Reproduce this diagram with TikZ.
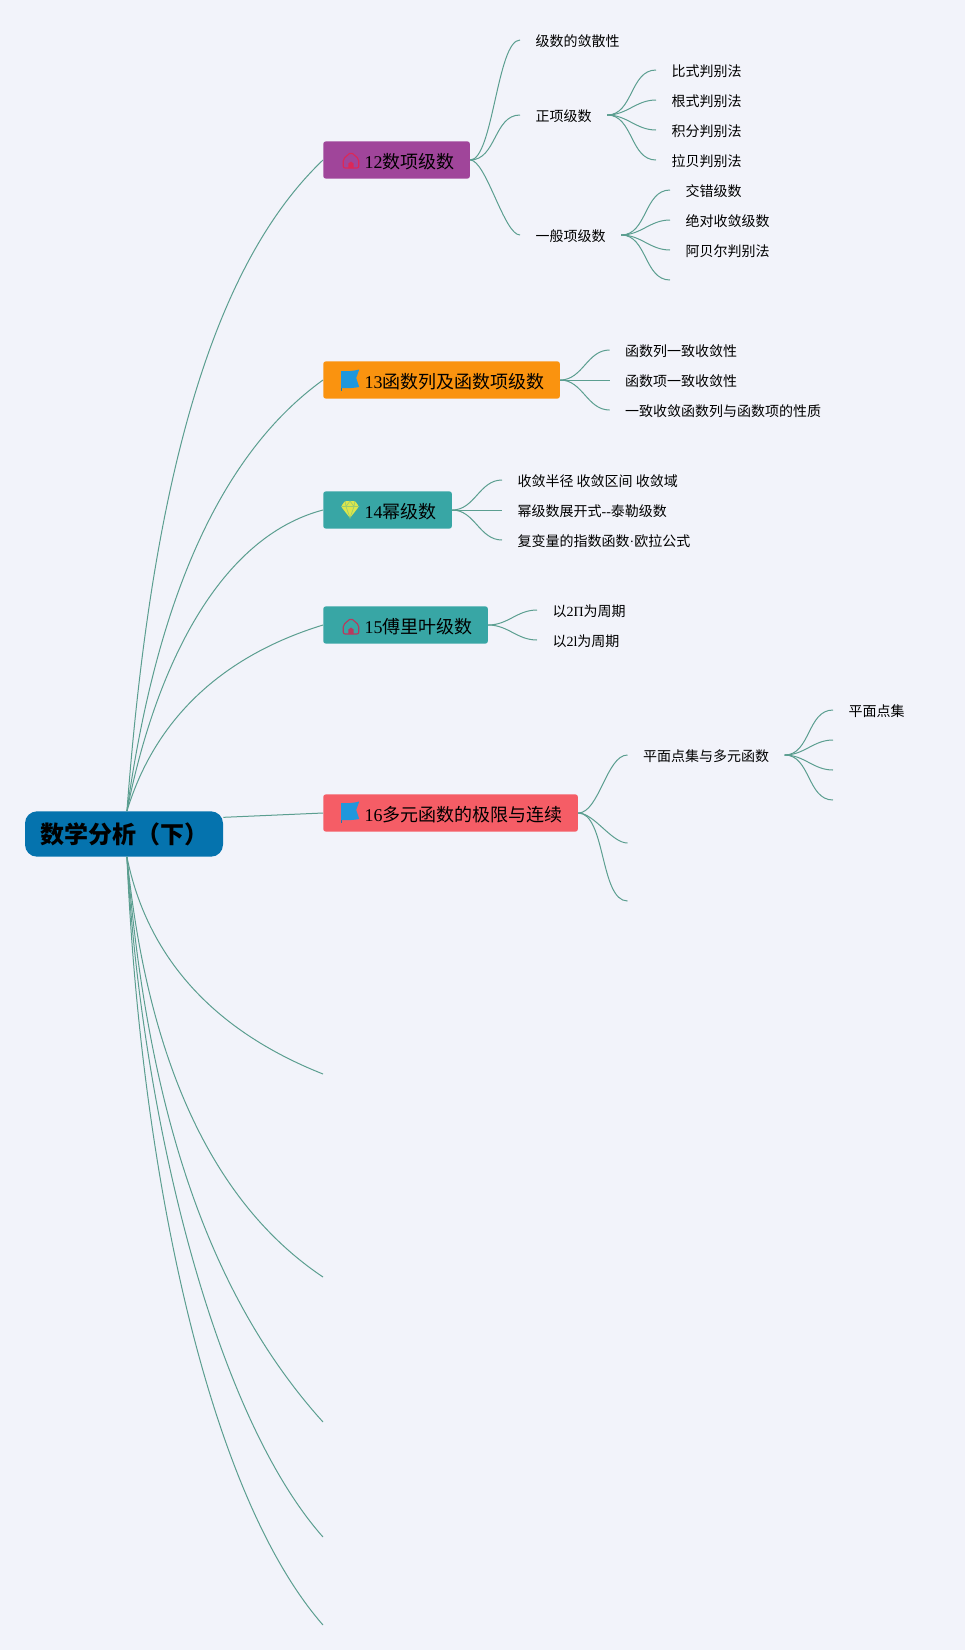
\documentclass[tikz,border=0pt]{standalone}
\usepackage{fontspec}
\setmainfont{Noto Sans CJK SC}
\newfontfamily\latinfont{Liberation Serif}
\newcommand{\lat}[1]{{\latinfont #1}}
\usetikzlibrary{positioning}
\definecolor{paper}{HTML}{F2F3FA}
\definecolor{wire}{HTML}{5B9E90}
\definecolor{rootblue}{HTML}{0573AE}
\definecolor{plum}{HTML}{A0459A}
\definecolor{amber}{HTML}{FA930F}
\definecolor{teal}{HTML}{38A6A5}
\definecolor{coral}{HTML}{F55D66}
\definecolor{flagblue}{HTML}{1F97DC}
\definecolor{gem}{HTML}{DDE64B}
\definecolor{roofred}{HTML}{DC2858}
\definecolor{roofdark}{HTML}{B83A5E}
\tikzset{
  topic/.style = {rounded corners=2pt, anchor=west, font=\fontsize{13.5pt}{16pt}\selectfont,
                  minimum height=28pt, inner xsep=11.5pt, inner ysep=0pt, text=black,
                  text height=13pt, text depth=0.2pt,
                  execute at begin node=\hspace*{19.5pt}},
  leaf/.style  = {anchor=west, font=\fontsize{10.5pt}{13pt}\selectfont,
                  inner xsep=11.5pt, inner ysep=0pt, text height=11pt, text depth=1pt},
  link/.style  = {wire, line width=0.75pt},
  tall/.style  = {looseness=0.45},
  wide/.style  = {looseness=0.7},
  pics/house icon/.style = {code={
    \draw[#1, line width=0.85pt, rounded corners=1.5pt, line join=round]
      (-7.8,8) -- (-7.8,-1) -- (0,-7.8) -- (7.8,-1) -- (7.8,8) -- cycle;
    \fill[#1] (-2.6,8) -- (-2.6,3.5) -- (0,1.5) -- (2.6,3.5) -- (2.6,8) -- cycle;
  }},
  pics/flag icon/.style = {code={
    \draw[flagblue!80!black, line width=0.6pt] (-9.7,-10) -- (-9.7,10);
    \fill[flagblue] (-9.7,-10) .. controls (-3,-9.5) and (3,-10) .. (8.5,-11.5)
      -- (5.5,-3) -- (8.5,6) .. controls (3,7) and (-3,7.5) .. (-9.7,7) -- cycle;
  }},
  pics/gem icon/.style = {code={
    \fill[gem, rounded corners=1pt] (-5,-9) -- (5,-9) -- (9,-3.5) -- (0,8) -- (-9,-3.5) -- cycle;
    \draw[#1, line width=0.5pt] (-9,-3.5) -- (9,-3.5) (-4,-3.5) -- (0,8) -- (4,-3.5)
      (-5,-9) -- (-4,-3.5) -- (0,-9) -- (4,-3.5) -- (5,-9);
  }},
}
\begin{document}
\begin{tikzpicture}[x=0.75pt, y=-0.75pt]
    \fill[paper] (0,0) rectangle (965,1650);
    \useasboundingbox (0,0) rectangle (965,1650);

    \node[rounded corners=9pt, fill=rootblue, minimum width=148.5pt, minimum height=34pt,
          font=\fontsize{18pt}{20pt}\selectfont\bfseries, text=black] (root) at (124,834) {数学分析（下）};
    \coordinate (up) at ([xshift=2.2pt]root.north);
    \coordinate (down) at ([xshift=2.2pt]root.south);

    % topics
    \node[topic, fill=plum]  (t12) at (323,160) {\lat{12}数项级数};
    \node[topic, fill=amber] (t13) at (323,380) {\lat{13}函数列及函数项级数};
    \node[topic, fill=teal]  (t14) at (323,510) {\lat{14}幂级数};
    \node[topic, fill=teal]  (t15) at (323,625) {\lat{15}傅里叶级数};
    \node[topic, fill=coral] (t16) at (323,813) {\lat{16}多元函数的极限与连续};

    \coordinate (t17) at (323,1074);
    \coordinate (t18) at (323,1277);
    \coordinate (t19) at (323,1422);
    \coordinate (t20) at (323,1537);
    \coordinate (t21) at (323,1625);

    \pic at (351,160) {house icon=roofred};
    \pic at (350.7,381) {flag icon};
    \pic at (350,510) {gem icon=gem!60!teal};
    \pic at (351,626) {house icon=roofdark};
    \pic at (350.7,813) {flag icon};

    % topic 12
    \node[leaf] (a1) at (520,40)  {级数的敛散性};
    \node[leaf] (a2) at (520,115) {正项级数};
    \node[leaf] (a3) at (520,235) {一般项级数};

    \node[leaf] (b1) at (656,70)  {比式判别法};
    \node[leaf] (b2) at (656,100) {根式判别法};
    \node[leaf] (b3) at (656,130) {积分判别法};
    \node[leaf] (b4) at (656,160) {拉贝判别法};

    \node[leaf] (c1) at (670,190) {交错级数};
    \node[leaf] (c2) at (670,220) {绝对收敛级数};
    \node[leaf] (c3) at (670,250) {阿贝尔判别法};
    \coordinate (c4) at (670,280);

    % topic 13
    \node[leaf] (d1) at (609.6,350) {函数列一致收敛性};
    \node[leaf] (d2) at (609.6,380) {函数项一致收敛性};
    \node[leaf] (d3) at (609.6,410) {一致收敛函数列与函数项的性质};

    % topic 14
    \node[leaf] (e1) at (502,480) {收敛半径 收敛区间 收敛域};
    \node[leaf] (e2) at (502,510) {幂级数展开式\lat{--}泰勒级数};
    \node[leaf] (e3) at (502,540) {复变量的指数函数\lat{·}欧拉公式};

    % topic 15
    \node[leaf] (f1) at (537,610) {以\lat{2Π}为周期};
    \node[leaf] (f2) at (537,640) {以\lat{2l}为周期};

    % topic 16
    \node[leaf] (g1) at (627.5,755) {平面点集与多元函数};
    \coordinate (g2) at (627.5,843);
    \coordinate (g3) at (627.5,901);

    \node[leaf] (h1) at (833,710) {平面点集};
    \coordinate (h2) at (833,740);
    \coordinate (h3) at (833,770);
    \coordinate (h4) at (833,800);

    % from the root
    \draw[link] (up) .. controls +(25,-333) and +(-110,105) .. (t12.west);
    \draw[link] (up) .. controls +(30,-215) and +(-101,73) .. (t13.west);
    \draw[link] (up) .. controls +(29,-146) and +(-103,27) .. (t14.west);
    \draw[link] (up) .. controls +(28,-92) and +(-101,31) .. (t15.west);
    \draw[link] ([yshift=12.5pt]root.east) -- (t16.west);
    \draw[link] (down) .. controls +(20,99) and +(-111,-44) .. (t17);
    \draw[link] (down) .. controls +(21,207) and +(-109,-73) .. (t18);
    \draw[link] (down) .. controls +(20,246) and +(-118,-131) .. (t19);
    \draw[link] (down) .. controls +(15,263) and +(-108,-122) .. (t20);
    \draw[link] (down) .. controls +(13,303) and +(-118,-135) .. (t21);

    \draw[link] (t12.east) to[out=0, in=180, tall] (a1.west);
    \draw[link] (t12.east) to[out=0, in=180] (a2.west);
    \draw[link] (t12.east) to[out=0, in=180, tall] (a3.west);

    \draw[link] (a2.east) to[out=0, in=180] (b1.west);
    \draw[link] (a2.east) to[out=0, in=180] (b2.west);
    \draw[link] (a2.east) to[out=0, in=180] (b3.west);
    \draw[link] (a2.east) to[out=0, in=180] (b4.west);

    \draw[link] (a3.east) to[out=0, in=180] (c1.west);
    \draw[link] (a3.east) to[out=0, in=180] (c2.west);
    \draw[link] (a3.east) to[out=0, in=180] (c3.west);
    \draw[link] (a3.east) to[out=0, in=180] (c4);

    \draw[link] (t13.east) to[out=0, in=180] (d1.west);
    \draw[link] (t13.east) -- (d2.west);
    \draw[link] (t13.east) to[out=0, in=180] (d3.west);

    \draw[link] (t14.east) to[out=0, in=180] (e1.west);
    \draw[link] (t14.east) -- (e2.west);
    \draw[link] (t14.east) to[out=0, in=180] (e3.west);

    \draw[link] (t15.east) to[out=0, in=180] (f1.west);
    \draw[link] (t15.east) to[out=0, in=180] (f2.west);

    \draw[link] (t16.east) to[out=0, in=180, wide] (g1.west);
    \draw[link] (t16.east) to[out=0, in=180, wide] (g2);
    \draw[link] (t16.east) to[out=0, in=180, wide] (g3);

    \draw[link] (g1.east) to[out=0, in=180] (h1.west);
    \draw[link] (g1.east) to[out=0, in=180] (h2);
    \draw[link] (g1.east) to[out=0, in=180] (h3);
    \draw[link] (g1.east) to[out=0, in=180] (h4);
  \end{tikzpicture}
\end{document}
